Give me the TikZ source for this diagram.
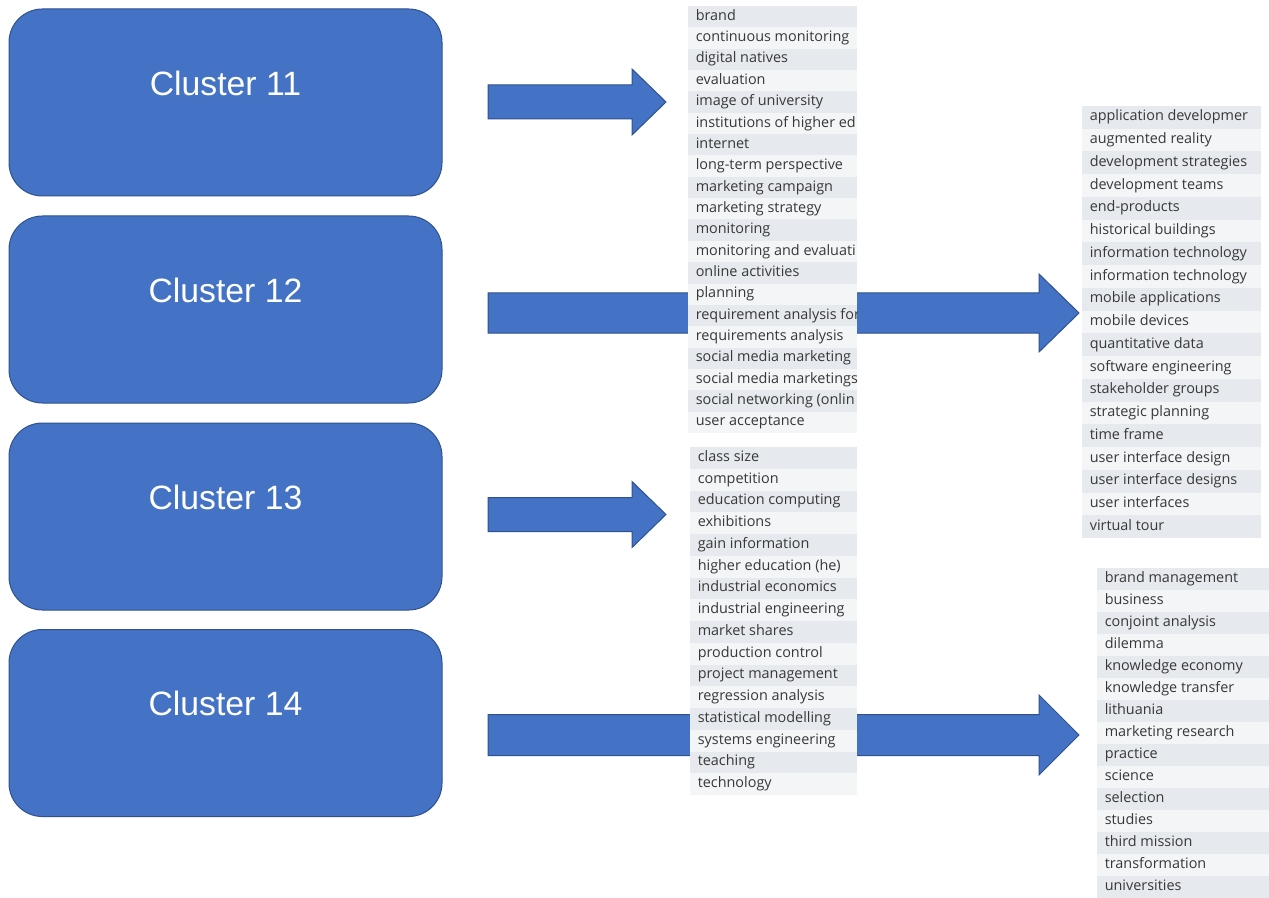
\documentclass[tikz,border=0pt]{standalone}
\usepackage{fontspec}
\setmainfont{Open Sans}
\newfontfamily\clusterfont{Liberation Sans}
\newfontfamily\kwfont{Open Sans}
\usetikzlibrary{calc}

\definecolor{boxblue}{HTML}{4472C4}
\definecolor{boxedge}{HTML}{2F528F}
\definecolor{rowA}{HTML}{E6E9ED}
\definecolor{rowB}{HTML}{F3F5F7}
\definecolor{kwgray}{HTML}{383838}

\tikzset{
  cluster/.style={draw=boxedge, fill=boxblue, line width=0.75pt,
    rounded corners=25pt, minimum width=324.75pt, minimum height=140.25pt},
  clusterlabel/.style={text=white, inner sep=0pt,
    font=\clusterfont\fontsize{25.3}{29}\selectfont},
  blockarrow/.style={draw=boxedge, fill=boxblue, line width=0.75pt},
  listbox/.style={fill=rowB, inner sep=0pt, outer sep=0pt},
  kwtext/.style={anchor=west, inner sep=0pt, text=kwgray,
    text height=8pt, text depth=2.6pt,
    font=\kwfont\fontsize{10.8}{12}\selectfont}
}

% block arrow: #1 start, #2 tip (same height), #3 half shaft, #4 half head, #5 head length
\newcommand\blockarrow[5]{%
  \path[blockarrow] ($(#1)+(0,-#3)$) -- ($(#2)+(-#5,-#3)$) -- ($(#2)+(-#5,-#4)$)
    -- (#2) -- ($(#2)+(-#5,#4)$) -- ($(#2)+(-#5,#3)$) -- ($(#1)+(0,#3)$) -- cycle;}

% keyword list: #1 name, #2 x, #3 y, #4 width, #5 height, #6 row height, #7 items
\newcommand\kwlist[7]{%
  \node[listbox, anchor=north west, minimum width=#4*0.75pt,
        minimum height=#5*0.75pt] (#1) at (#2,#3) {};
  \begin{scope}
    \clip (#1.north west) rectangle (#1.south east);
    \foreach \kw [count=\i from 0] in {#7} {
      \ifodd\i\relax\def\rowcol{rowB}\else\def\rowcol{rowA}\fi
      \fill[\rowcol] ($(#1.north west)+(0,\i*#6)$) rectangle ++(#4,#6);
      \node[kwtext] (#1-\i) at ($(#1.north west)+(7.5,\i*#6+#6/2)$) {\kw};
    }
  \end{scope}}

\begin{document}
\begin{tikzpicture}[x=0.75pt, y=-0.75pt]
  \fill[white] (0,0) rectangle (1269,898);
  \useasboundingbox (0,0) rectangle (1269,898);

  % cluster boxes
  \node[cluster] (c11) at (225.5,102.5) {};
  \node[cluster] (c12) at (225.5,309.5) {};
  \node[cluster] (c13) at (225.5,516.5) {};
  \node[cluster] (c14) at (225.5,723) {};
  \node[clusterlabel] (c11t) at ($(c11.center)+(0,-19.5)$) {Cluster 11};
  \node[clusterlabel] (c12t) at ($(c12.center)+(0,-19.5)$) {Cluster 12};
  \node[clusterlabel] (c13t) at ($(c13.center)+(0,-19.5)$) {Cluster 13};
  \node[clusterlabel] (c14t) at ($(c14.center)+(0,-19.5)$) {Cluster 14};

  % arrow ends
  \coordinate (a1s) at (488,102);   \coordinate (a1t) at (666,102);
  \coordinate (a2s) at (488,313);   \coordinate (a2t) at (1079,313);
  \coordinate (a3s) at (488,514.5); \coordinate (a3t) at (666,514.5);
  \coordinate (a4s) at (488,735);   \coordinate (a4t) at (1079,735);

  \blockarrow{a1s}{a1t}{17}{33}{34}
  \blockarrow{a2s}{a2t}{20}{39}{40}
  \blockarrow{a3s}{a3t}{17}{33}{34}
  \blockarrow{a4s}{a4t}{20.5}{40}{40}

  % keyword lists
  \kwlist{kwa}{688}{6}{169}{427}{21.35}{brand,continuous monitoring,digital natives,evaluation,image of university,institutions of higher ed,internet,long-term perspective,marketing campaign,marketing strategy,monitoring,monitoring and evaluati,online activities,planning,requirement analysis for,requirements analysis,social media marketing,social media marketings,social networking (onlin,user acceptance}

  \kwlist{kwb}{1082}{106}{179}{432}{22.74}{application developmer,augmented reality,development strategies,development teams,end-products,historical buildings,information technology,information technology,mobile applications,mobile devices,quantitative data,software engineering,stakeholder groups,strategic planning,time frame,user interface design,user interface designs,user interfaces,virtual tour}

  \kwlist{kwc}{690}{447}{167}{348}{21.75}{class size,competition,education computing,exhibitions,gain information,higher education (he),industrial economics,industrial engineering,market shares,production control,project management,regression analysis,statistical modelling,systems engineering,teaching,technology}

  \kwlist{kwd}{1097}{568}{172}{330}{22}{brand management,business,conjoint analysis,dilemma,knowledge economy,knowledge transfer,lithuania,marketing research,practice,science,selection,studies,third mission,transformation,universities}
\end{tikzpicture}
\end{document}
